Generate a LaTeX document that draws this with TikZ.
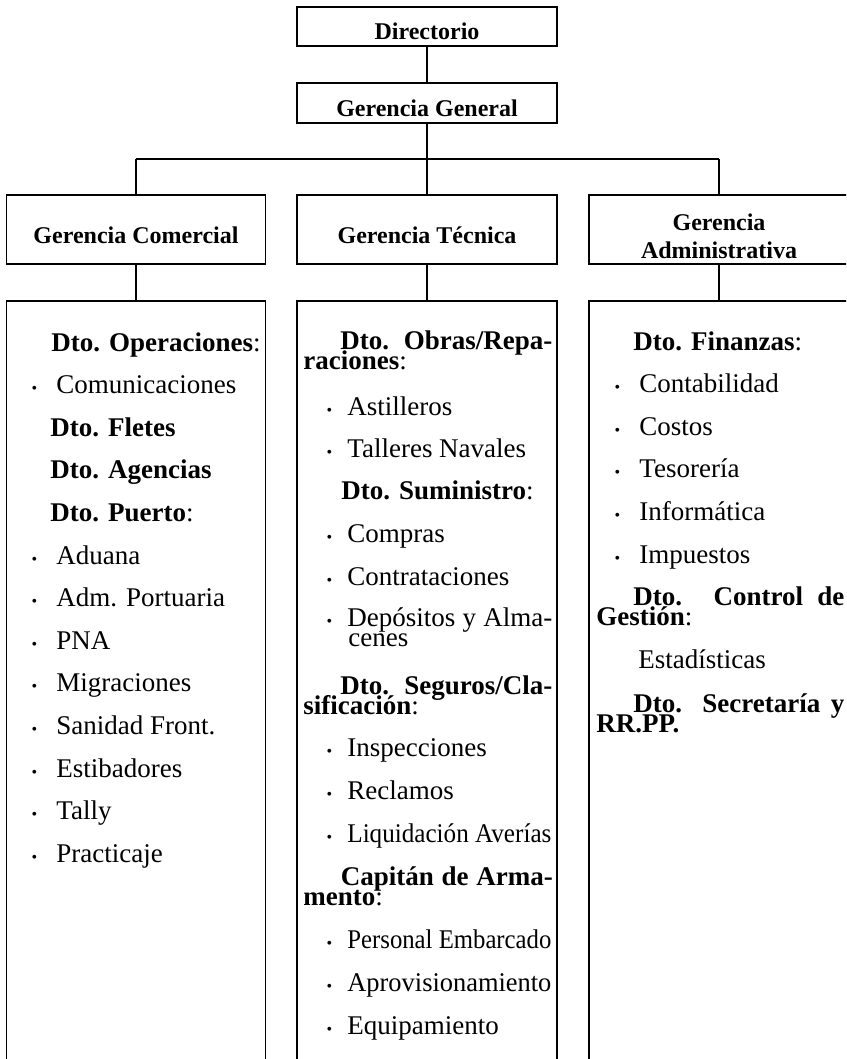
\documentclass[tikz,border=0pt]{standalone}
\usepackage{fontspec}
\usepackage{graphicx}
\setmainfont{Liberation Serif}
\newcommand\bodyfont{\fontsize{13.5}{16}\selectfont}
\newcommand\headfont{\fontsize{12}{14}\selectfont\bfseries}
\newcommand\bulfont{\fontsize{8}{8}\selectfont}
\newlength\fitlen
\newcommand\fitw[2]{\settowidth\fitlen{#2}\ifdim\fitlen>#1\relax\resizebox{#1}{\height}{#2}\else#2\fi}
\newcommand\just[2]{\makebox[#1][s]{#2}}
\newcommand\bu[1]{\makebox[#1][l]{\bulfont •}}
\begin{document}
\begin{tikzpicture}[x=0.5pt,y=-0.5pt,
  box/.style={draw, line width=0.55pt, inner sep=0pt, outer sep=0pt},
  wire/.style={line width=0.55pt},
  ttl/.style={anchor=base, inner sep=0pt, font=\headfont},
  ln/.style={anchor=base west, inner sep=0pt, font=\bodyfont}]
\useasboundingbox (0,0) rectangle (846,1059);
\clip (0,0) rectangle (846,1059);

% boxes
\node[box, minimum width=130pt, minimum height=19.5pt] (dir) at (427,26.5) {};
\node[box, minimum width=130pt, minimum height=20pt] (gg) at (427,103) {};
\node[box, minimum width=129.5pt, minimum height=34.5pt] (gc) at (136,229.5) {};
\node[box, minimum width=130pt, minimum height=34.5pt] (gt) at (427,229.5) {};
\node[box, minimum width=130pt, minimum height=34.5pt] (ga) at (719,229.5) {};
\node[box, minimum width=129.5pt, minimum height=394.5pt] (bc) at (136,695.5) {};
\node[box, minimum width=130pt, minimum height=394.5pt] (bt) at (427,695.5) {};
\node[box, minimum width=130pt, minimum height=394.5pt] (ba) at (719,695.5) {};

% connectors
\coordinate (jl) at (136,159);
\coordinate (jr) at (719,159);
\draw[wire] (dir.south) -- (gg.north);
\draw[wire] (gg.south) -- (gt.north);
\draw[wire] (jl) -- (jr);
\draw[wire] (jl) -- (gc.north);
\draw[wire] (jr) -- (ga.north);
\draw[wire] (gc.south) -- (bc.north);
\draw[wire] (gt.south) -- (bt.north);
\draw[wire] (ga.south) -- (ba.north);

% titles
\node[ttl] (tdir) at (427,40) {Directorio};
\node[ttl] (tgg) at (427,116.5) {Gerencia General};
\node[ttl] (tgc) at (136,243) {Gerencia Comercial};
\node[ttl] (tgt) at (427,243) {Gerencia Técnica};
\node[ttl] (tga1) at (719,230) {Gerencia};
\node[ttl] (tga2) at (719,258.5) {Administrativa};

% left column
\node[ln] (l1) at (51,351) {\textbf{Dto. Operaciones}:};
\node[ln] (l2) at (31.2,393.6) {\bu{12.4pt}Comunicaciones};
\node[ln] (l3) at (50,436.2) {\textbf{Dto. Fletes}};
\node[ln] (l4) at (50,478.8) {\textbf{Dto. Agencias}};
\node[ln] (l5) at (50,521.4) {\textbf{Dto. Puerto}:};
\node[ln] (l6) at (31.2,564) {\bu{12.4pt}Aduana};
\node[ln] (l7) at (31.2,606.6) {\bu{12.4pt}Adm. Portuaria};
\node[ln] (l8) at (31.2,649.2) {\bu{12.4pt}PNA};
\node[ln] (l9) at (31.2,691.8) {\bu{12.4pt}Migraciones};
\node[ln] (l10) at (31.2,734.4) {\bu{12.4pt}Sanidad Front.};
\node[ln] (l11) at (31.2,777) {\bu{12.4pt}Estibadores};
\node[ln] (l12) at (31.2,819.6) {\bu{12.4pt}Tally};
\node[ln] (l13) at (31.2,862.2) {\bu{12.4pt}Practicaje};

% middle column
\node[ln] (m1) at (340,349.5) {\just{106pt}{\textbf{Dto. Obras/Repa-}}};
\node[ln] (m2) at (303,369.5) {\textbf{raciones}:};
\node[ln] (m3) at (326.2,415) {\bu{10.4pt}\fitw{102.5pt}{Astilleros}};
\node[ln] (m4) at (326.2,457.5) {\bu{10.4pt}\fitw{102.5pt}{Talleres Navales}};
\node[ln] (m5) at (341,499.5) {\textbf{Dto. Suministro}:};
\node[ln] (m6) at (326.2,542) {\bu{10.4pt}\fitw{102.5pt}{Compras}};
\node[ln] (m7) at (326.2,585) {\bu{10.4pt}\fitw{102.5pt}{Contrataciones}};
\node[ln] (m8) at (326.2,626.5) {\bu{10.4pt}\just{102.5pt}{Depósitos y Alma-}};
\node[ln] (m9) at (348,646) {cenes};
\node[ln] (m10) at (340,694) {\just{106pt}{\textbf{Dto. Seguros/Cla-}}};
\node[ln] (m11) at (303,714) {\textbf{sificación}:};
\node[ln] (m12) at (326.2,756) {\bu{10.4pt}\fitw{102.5pt}{Inspecciones}};
\node[ln] (m13) at (326.2,799) {\bu{10.4pt}\fitw{102.5pt}{Reclamos}};
\node[ln] (m14) at (326.2,842) {\bu{10.4pt}\fitw{102pt}{Liquidación Averías}};
\node[ln] (m15) at (340.5,885) {\just{106pt}{\textbf{Capitán de Arma-}}};
\node[ln] (m16) at (303,905) {\textbf{mento}:};
\node[ln] (m17) at (326.2,948) {\bu{10.4pt}\fitw{102pt}{Personal Embarcado}};
\node[ln] (m18) at (326.2,991) {\bu{10.4pt}\fitw{102pt}{Aprovisionamiento}};
\node[ln] (m19) at (326.2,1034) {\bu{10.4pt}\fitw{102pt}{Equipamiento}};

% right column
\node[ln] (r1) at (633,350) {\textbf{Dto. Finanzas}:};
\node[ln] (r2) at (614.2,392.5) {\bu{12.4pt}Contabilidad};
\node[ln] (r3) at (614.2,435) {\bu{12.4pt}Costos};
\node[ln] (r4) at (614.2,477.5) {\bu{12.4pt}Tesorería};
\node[ln] (r5) at (614.2,520) {\bu{12.4pt}Informática};
\node[ln] (r6) at (614.2,563) {\bu{12.4pt}Impuestos};
\node[ln] (r7) at (633,605) {\just{105.5pt}{\textbf{Dto. Control de}}};
\node[ln] (r8) at (596,625) {\textbf{Gestión}:};
\node[ln] (r9) at (638,668) {Estadísticas};
\node[ln] (r10) at (633,712) {\just{105.5pt}{\textbf{Dto. Secretaría y}}};
\node[ln] (r11) at (596,732) {\textbf{RR.PP.}};
\end{tikzpicture}
\end{document}
